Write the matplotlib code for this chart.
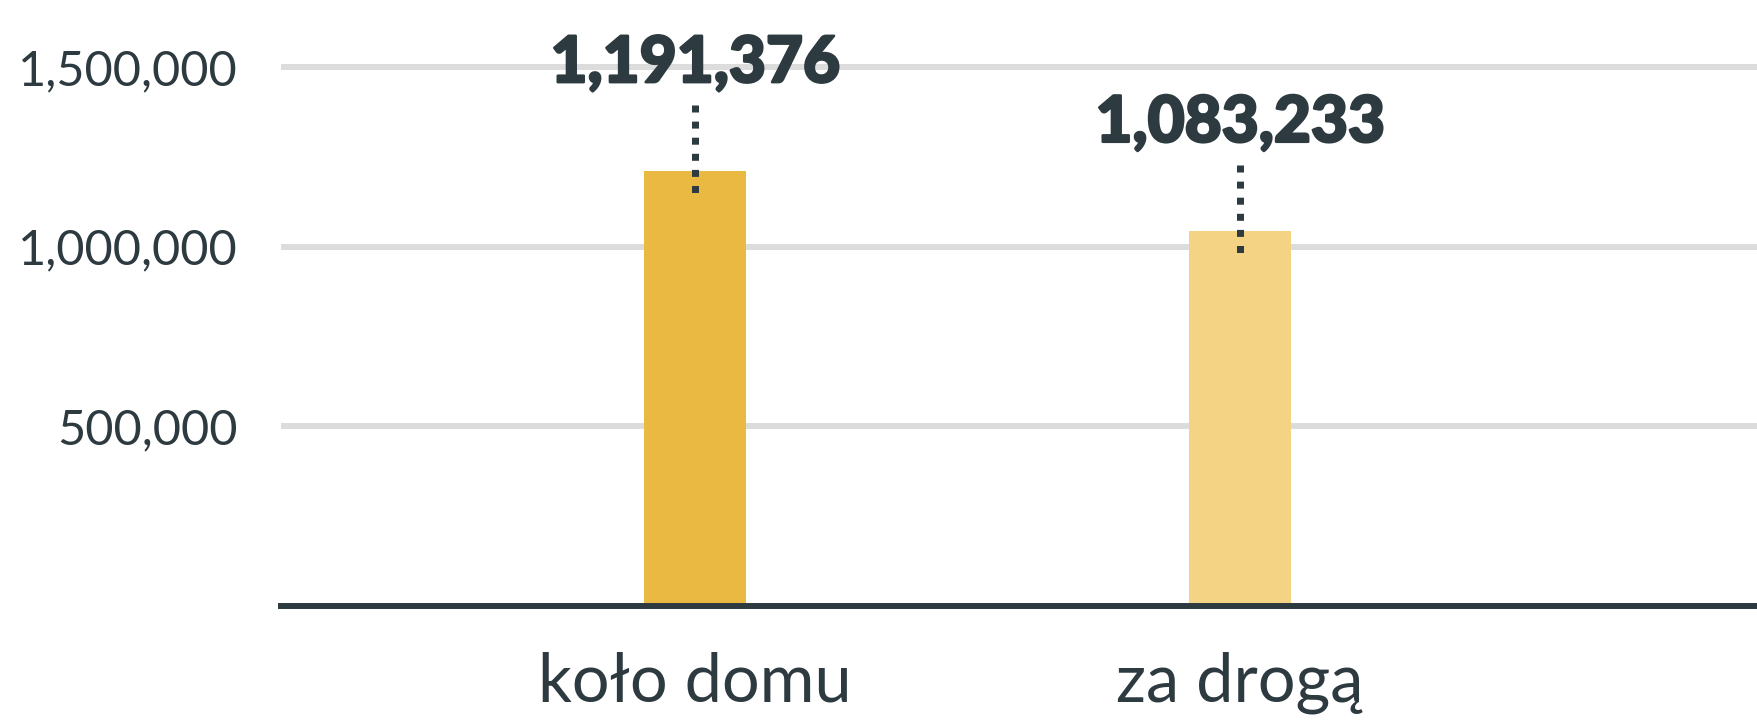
import matplotlib
matplotlib.use("Agg")
import matplotlib.pyplot as plt
import matplotlib.patheffects as pe
from matplotlib.ticker import FuncFormatter

# dane
categories = ["koło domu", "za drogą"]
bar_heights = [1210000, 1044000]          # wysokości słupków
value_labels = ["1,191,376", "1,083,233"]  # napisy nad słupkami
bar_colors = ["#e9b941", "#f4d484"]
yticks = [500000, 1000000, 1500000]

dark = "#2d3a40"
plt.rcParams['font.family'] = ['Lato', 'DejaVu Sans']

W, H = 1757, 722
fig = plt.figure(figsize=(W / 100, H / 100), dpi=100)
ax = fig.add_axes([281 / W, 116 / H, 1 - 281 / W, 575 / H])

x = list(range(len(categories)))
ax.bar(x, bar_heights, width=0.187, color=bar_colors, zorder=2)

ax.set_xlim(-0.76, 1.949)
ax.set_ylim(0, 1600000)

# siatka i oś
ax.set_yticks(yticks)
ax.yaxis.set_major_formatter(FuncFormatter(lambda v, p: f"{int(v):,}"))
ax.grid(axis="y", color="#dcdcdc", lw=4.3, zorder=0)
ax.set_axisbelow(True)
for s in ["top", "right", "left"]:
    ax.spines[s].set_visible(False)
ax.spines["bottom"].set_color(dark)
ax.spines["bottom"].set_linewidth(4.3)
ax.spines["bottom"].set_zorder(3)
ax.tick_params(axis="y", length=0, pad=31, labelsize=35, labelcolor=dark)
ax.tick_params(axis="x", length=0, pad=33, labelsize=48, labelcolor=dark)
ax.set_xticks(x)
ax.set_xticklabels(categories)

# kropkowane linie i etykiety wartości
u = 1600000 / 575  # jednostki danych na piksel
for i, h in enumerate(bar_heights):
    ax.plot([i, i], [h + 66 * u, h - 22 * u], color=dark, lw=5.04,
            linestyle=(0, (1, 1.3)), solid_capstyle="butt",
            dash_capstyle="butt", zorder=4)
    ax.annotate(value_labels[i], (i, h), xytext=(0, 89 * 0.72),
                textcoords="offset points", ha="center", va="baseline",
                fontsize=46, fontweight="black", color=dark,
                path_effects=[pe.withStroke(linewidth=1.8, foreground=dark)])

fig.savefig("out.png", dpi=100)
